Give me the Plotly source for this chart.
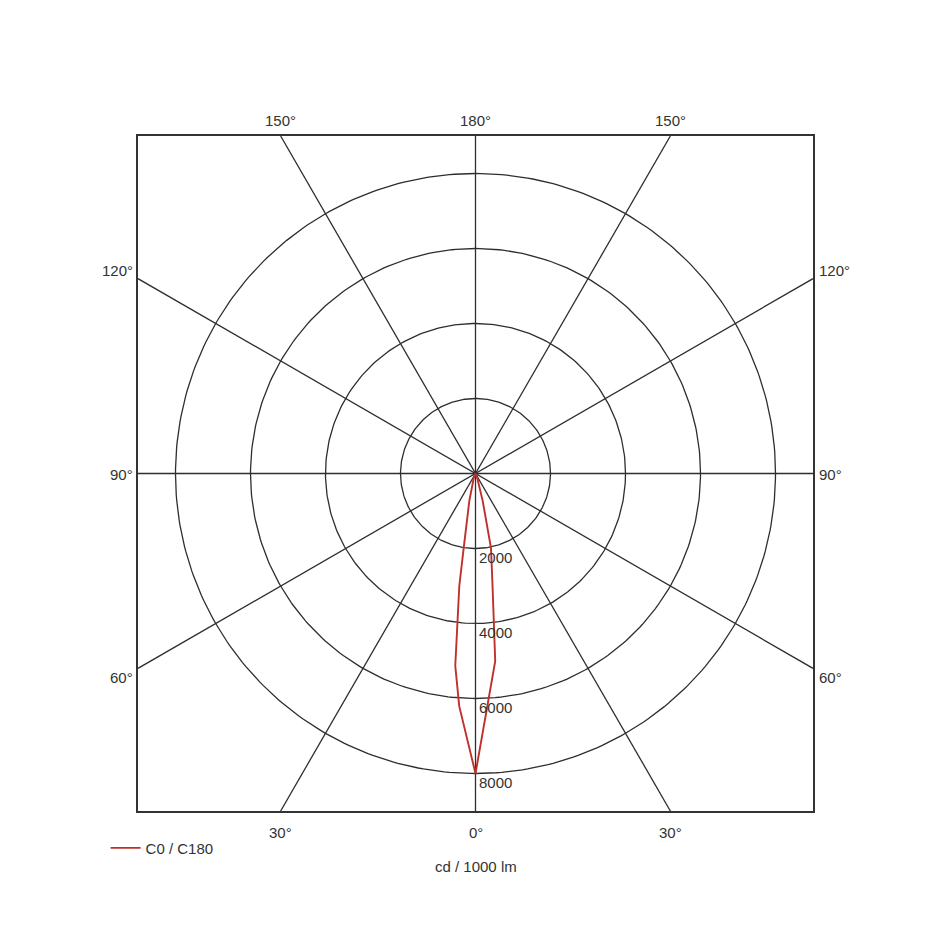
import numpy as np
import plotly.graph_objects as go

# ---- data ----
# C0 plane (drawn on the right half), gamma in degrees, intensity in cd/1000 lm
gamma_c0 = [0, 6, 7, 8.6, 11.75, 14.7, 20, 30]
intensity_c0 = [8000, 5030, 4020, 3040, 2030, 760, 150, 0]
# C180 plane (drawn on the left half)
gamma_c180 = [0, 4, 6, 7, 8.2, 9, 12.7, 20, 30]
intensity_c180 = [8000, 6220, 5160, 4020, 3030, 2010, 750, 150, 0]

ring_values = [2000, 4000, 6000, 8000]
ring_labels = ["2000", "4000", "6000", "8000"]
spoke_angles = [0, 30, 60, 90, 120, 150]
label_angles = [0, 30, 60, 90, 120, 150, 180]
angle_labels = ["0°", "30°", "60°", "90°", "120°", "150°", "180°"]
series_name = "C0 / C180"
unit_label = "cd / 1000 lm"

R = 9000  # half-width of the square frame in cd
GRID = "#2e2e2e"
TXT = "#333333"
RED = "#c0302b"
FONT = "Liberation Sans, Arial, sans-serif"

fig = go.Figure()

# rings
t = np.linspace(0, 2 * np.pi, 361)
for rv in ring_values:
    fig.add_trace(go.Scatter(x=rv * np.cos(t), y=rv * np.sin(t), mode="lines",
                             line=dict(color=GRID, width=1.3), hoverinfo="skip",
                             showlegend=False))

# spokes (full lines through the centre, to the frame)
for a in spoke_angles:
    g = np.radians(a)
    s, c = np.sin(g), np.cos(g)
    L = R / max(abs(s), abs(c))
    fig.add_trace(go.Scatter(x=[-L * s, L * s], y=[L * c, -L * c], mode="lines",
                             line=dict(color=GRID, width=1.3), hoverinfo="skip",
                             showlegend=False))

# intensity curve
g0 = np.radians(np.array(gamma_c0, dtype=float))
i0 = np.array(intensity_c0, dtype=float)
g1 = np.radians(np.array(gamma_c180, dtype=float))
i1 = np.array(intensity_c180, dtype=float)
xr = i0 * np.sin(g0)
yr = -i0 * np.cos(g0)
xl = -i1 * np.sin(g1)
yl = -i1 * np.cos(g1)
cx = np.concatenate([xr[::-1], xl[1:]])
cy = np.concatenate([yr[::-1], yl[1:]])
fig.add_trace(go.Scatter(x=cx, y=cy, mode="lines", name=series_name,
                         line=dict(color=RED, width=1.9), showlegend=True))

annotations = []
# ring labels
for rv, lab in zip(ring_values, ring_labels):
    annotations.append(dict(x=0, y=-rv, xref="x", yref="y", text=lab, showarrow=False,
                            xanchor="left", yanchor="top", xshift=1, yshift=2,
                            font=dict(family=FONT, size=15, color=TXT)))

# angle labels
for a, lab in zip(label_angles, angle_labels):
    g = np.radians(a)
    s, c = np.sin(g), np.cos(g)
    L = R / max(abs(s), abs(c))
    for side in ([1] if a in (0, 180) else [1, -1]):
        px, py = side * L * s, -L * c
        d = dict(x=px, y=py, xref="x", yref="y", text=lab, showarrow=False,
                 font=dict(family=FONT, size=15, color=TXT))
        if abs(abs(py) - R) < 1e-6 and abs(px) < R - 1:
            d.update(xanchor="center", yanchor="middle",
                     yshift=(16 if py > 0 else -21))
        else:
            d.update(xanchor=("left" if px > 0 else "right"), yanchor="middle",
                     xshift=(4 if px > 0 else -3),
                     yshift=(-1 if abs(py) < 1 else (8 if py > 0 else -9)))
        annotations.append(d)

annotations.append(dict(x=0.5, y=-0.0815, xref="paper", yref="paper", text=unit_label,
                        showarrow=False, xanchor="center", yanchor="middle",
                        font=dict(family=FONT, size=15, color=TXT)))

axis = dict(range=[-R, R], showgrid=False, zeroline=False, showticklabels=False,
            ticks="", showline=True, mirror=True, linecolor="#333333", linewidth=1.7,
            fixedrange=True)

fig.update_layout(
    width=940, height=940,
    margin=dict(l=130, r=135, t=128, b=137),
    paper_bgcolor="white", plot_bgcolor="white",
    xaxis=axis, yaxis=axis,
    annotations=annotations,
    showlegend=True,
    legend=dict(x=-0.048, y=-0.055, xanchor="left", yanchor="middle",
                font=dict(family=FONT, size=15, color=TXT),
                bgcolor="rgba(0,0,0,0)", itemwidth=30),
    font=dict(family=FONT, size=15, color=TXT),
)

fig.write_html("out.html")
